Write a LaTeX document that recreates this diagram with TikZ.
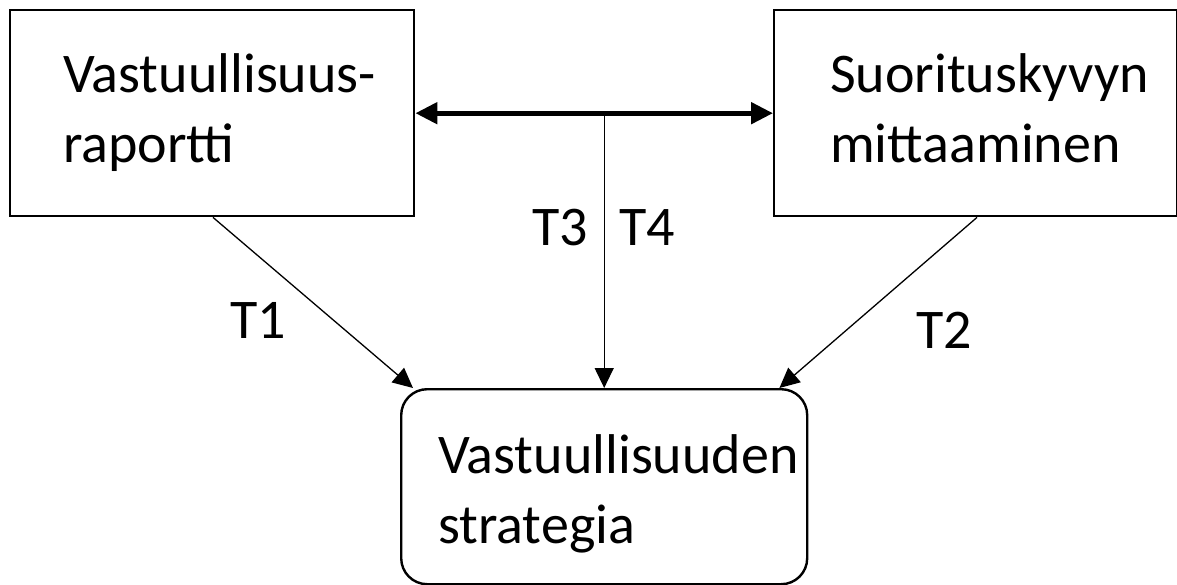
\documentclass[tikz,border=0pt]{standalone}
\usepackage{fontspec}
\setmainfont{Carlito}
\usetikzlibrary{arrows.meta,calc}
\begin{document}
\begin{tikzpicture}[x=1pt,y=-1pt,
  box/.style={draw, line width=2.4pt, minimum width=404pt, minimum height=206pt, inner sep=0pt, anchor=north west},
  roundbox/.style={box, rounded corners=26pt, minimum height=195pt},
  lbl/.style={font=\fontsize{56}{70}\selectfont, align=left, inner sep=0pt, anchor=base west},
  tag/.style={font=\fontsize{56}{70}\selectfont, inner sep=0pt},
  thin/.style={line width=1.3pt, -{Triangle[length=20pt,width=19pt]}},
  thick/.style={line width=5pt, {Triangle[length=22pt,width=21pt]}-{Triangle[length=22pt,width=21pt]}}]
  \useasboundingbox (0,0) rectangle (1177,585);
  % boxes
  \node[box] (L) at (9,9) {};
  \node[box, minimum width=403pt] (R) at (773,9) {};
  \node[roundbox, minimum width=406pt] (B) at (400,388) {};
  % box texts (anchored at the baseline of the last line)
  \node[lbl] (Lt) at (63,163) {Vastuullisuus-\\raportti};
  \node[lbl] (Rt) at (830,163) {Suorituskyvyn\\mittaaminen};
  \node[lbl] (Bt) at (438,543) {Vastuullisuuden\\strategia};
  % connectors
  \coordinate (m) at (B.north |- L.east);
  \draw[thick] (L.east) -- (R.west);
  \draw[thin] (m) -- (B.north);
  \draw[thin] ($(L.south west)+(204,0)$) -- ($(B.north west)+(13,0)$);
  \draw[thin] ($(R.south west)+(204,0)$) -- ($(B.north east)+(-29,0)$);
  % labels
  \node[tag] (t1) at (258,320) {T1};
  \node[tag] (t2) at (944,330) {T2};
  \node[tag] (t3) at (560,228) {T3};
  \node[tag] (t4) at (647,228) {T4};
\end{tikzpicture}
\end{document}
